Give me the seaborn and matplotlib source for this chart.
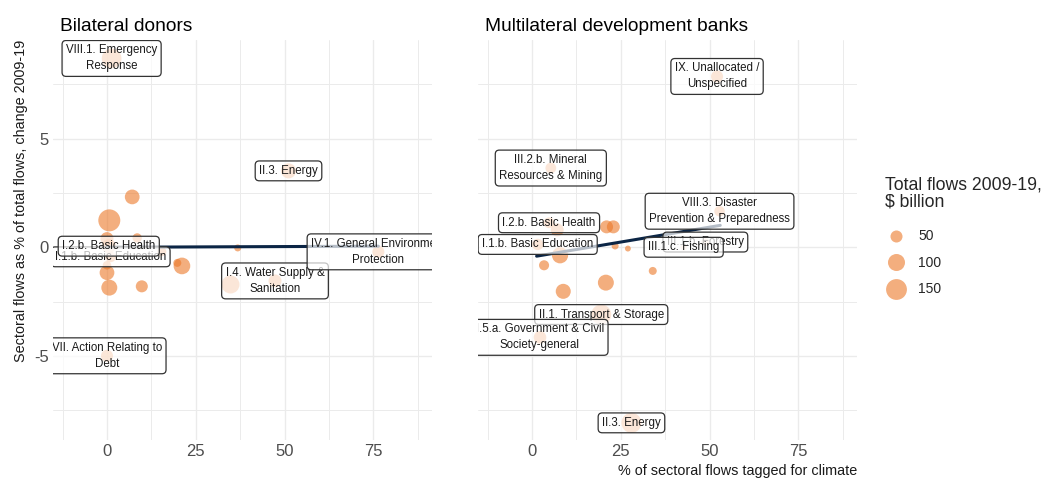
import matplotlib
matplotlib.use("Agg")
import matplotlib.pyplot as plt
from matplotlib.lines import Line2D
import pandas as pd
import seaborn as sns

# ---- Bilateral donors -------------------------------------------------------
bil_sector = [
    "VIII.1. Emergency\nResponse", "II.3. Energy", "", "", "", "",
    "I.1.b. Basic Education", "I.2.b. Basic Health", "", "", "", "", "",
    "", "", "", "I.4. Water Supply &\nSanitation",
    "IV.1. General Environment\nProtection", "VII. Action Relating to\nDebt",
]
bil_climate_pct = [1.3, 51.1, 7.1, 0.65, 8.5, 0.0, 1.0, 0.5, 15.4, 0.0,
                   0.0, 0.65, 9.8, 19.8, 21.1, 36.8, 47.3, 76.4, 0.0]
bil_share_change = [8.7, 3.52, 2.32, 1.24, 0.43, 0.40, -0.44, 0.05, -0.2,
                    -0.83, -1.17, -1.86, -1.80, -0.72, -0.86, -0.03, -1.55,
                    -0.21, -5.0]
bil_total_flows = [135, 78, 75, 167, 30, 58, 40, 70, 30, 25, 75, 88, 50, 22,
                   96, 17, 58, 50, 50]
unl_bil_x = [34.5]
unl_bil_y = [-1.67]
unl_bil_v = [112]

# ---- Multilateral development banks ----------------------------------------
mdb_sector = [
    "IX. Unallocated /\nUnspecified", "III.2.b. Mineral\nResources & Mining",
    "VIII.3. Disaster\nPrevention & Preparedness", "I.1.b. Basic Education",
    "I.2.b. Basic Health", "", "", "", "", "", "", "", "", "", "",
    "III.1.b. Forestry", "III.1.c. Fishing", "II.1. Transport & Storage",
    "I.5.a. Government & Civil\nSociety-general", "II.3. Energy",
]
mdb_climate_pct = [52.1, 5.3, 52.8, 1.6, 4.8, 7.1, 21.0, 22.9, 23.4, 27.0,
                   7.9, 3.4, 8.8, 20.8, 34.0, 48.8, 42.7, 19.5, 2.25, 28.0]
mdb_share_change = [7.87, 3.65, 1.66, 0.13, 1.13, 0.80, 0.94, 0.94, 0.06,
                    -0.06, -0.37, -0.83, -2.03, -1.63, -1.09, 0.24, 0.0,
                    -3.1, -4.15, -8.09]
mdb_total_flows = [50, 40, 38, 45, 40, 58, 58, 58, 17, 12, 90, 35, 78, 88,
                   22, 20, 15, 138, 55, 138]

# Linear trend of each panel (end points)
bil_fit_x = [0.0, 76.4]
bil_fit_y = [0.0, 0.05]
mdb_fit_x = [1.3, 53.0]
mdb_fit_y = [-0.41, 1.01]

legend_values = [50, 100, 150]
x_ticks = [0, 25, 50, 75]
y_ticks = [-5, 0, 5]

# ---- style ------------------------------------------------------------------
sns.set_theme(style="white")
plt.rcParams["font.family"] = ["Liberation Sans", "DejaVu Sans"]
plt.rcParams["axes.unicode_minus"] = False

POINT = (236 / 255, 120 / 255, 40 / 255)
ALPHA = 0.6
LINE = "#0B2545"
SIZE_NORM = (0, 200)
SIZES = (0, 300)

fig = plt.figure(figsize=(10.46, 4.79), dpi=100)
W, H = 1046, 479
ax_l = fig.add_axes([53 / W, 1 - 440 / H, 379 / W, 400 / H])
ax_r = fig.add_axes([478 / W, 1 - 440 / H, 379 / W, 400 / H])


def panel(ax, names, xs, ys, vs, fit_x, fit_y, show_y):
    df = pd.DataFrame({"x": xs, "y": ys, "v": vs, "name": names})
    sns.scatterplot(data=df, x="x", y="y", size="v", sizes=SIZES,
                    size_norm=SIZE_NORM, color=POINT, alpha=ALPHA,
                    linewidth=0, legend=False, ax=ax, zorder=2)
    fit = pd.DataFrame({"x": fit_x, "y": fit_y})
    sns.lineplot(data=fit, x="x", y="y", color=LINE, lw=2.2, ax=ax, zorder=3)
    for _, r in df[df["name"] != ""].iterrows():
        ax.text(r["x"], r["y"], r["name"], ha="center", va="center",
                fontsize=8.3, color="#1A1A1A", linespacing=1.45, zorder=5,
                clip_on=True,
                bbox=dict(boxstyle="round,pad=0.34,rounding_size=0.35",
                          facecolor=(1, 1, 1, 0.7), edgecolor="#333333",
                          linewidth=0.9))
    ax.set_xlim(-15.2, 91.5)
    ax.set_ylim(-8.88, 9.55)
    ax.set_xticks(x_ticks)
    ax.set_xticks([-12.5, 12.5, 37.5, 62.5, 87.5], minor=True)
    ax.set_yticks(y_ticks)
    ax.set_yticks([-7.5, -2.5, 2.5, 7.5], minor=True)
    ax.grid(which="major", color="#EBEBEB", lw=1.0)
    ax.grid(which="minor", color="#EBEBEB", lw=0.7)
    ax.set_axisbelow(True)
    ax.tick_params(which="both", length=0, labelsize=12, colors="#4D4D4D",
                   pad=3)
    if not show_y:
        ax.tick_params(axis="y", labelleft=False)
    for s in ax.spines.values():
        s.set_visible(False)
    ax.set_xlabel("")
    ax.set_ylabel("")


panel(ax_l, bil_sector, bil_climate_pct, bil_share_change, bil_total_flows,
      bil_fit_x, bil_fit_y, True)
sns.scatterplot(x=unl_bil_x, y=unl_bil_y, size=unl_bil_v, sizes=SIZES,
                size_norm=SIZE_NORM, color=POINT, alpha=ALPHA, linewidth=0,
                legend=False, ax=ax_l, zorder=2)
ax_l.set_xlabel("")
ax_l.set_ylabel("")
panel(ax_r, mdb_sector, mdb_climate_pct, mdb_share_change, mdb_total_flows,
      mdb_fit_x, mdb_fit_y, False)

# titles and axis labels
fig.text(60 / W, 1 - 31 / H, "Bilateral donors", fontsize=13.8,
         color="black", va="baseline", ha="left")
fig.text(485 / W, 1 - 31 / H, "Multilateral development banks",
         fontsize=13.8, color="black", va="baseline", ha="left")
fig.text(21.5 / W, 1 - 201 / H,
         "Sectoral flows as % of total flows, change 2009-19",
         rotation=90, fontsize=10.4, color="#1A1A1A", ha="center",
         va="center")
fig.text(857 / W, 1 - 475 / H, "% of sectoral flows tagged for climate",
         fontsize=10.4, color="#1A1A1A", ha="right", va="baseline")

# size legend
handles = []
for v in legend_values:
    s = SIZES[0] + (SIZES[1] - SIZES[0]) * (v - SIZE_NORM[0]) / (
        SIZE_NORM[1] - SIZE_NORM[0])
    handles.append(Line2D([], [], marker="o", linestyle="",
                          markersize=s ** 0.5, markerfacecolor=POINT,
                          markeredgewidth=0, alpha=ALPHA))
leg = fig.legend(handles, [str(v) for v in legend_values],
                 title="Total flows 2009-19,\n\\$ billion",
                 loc="upper left", bbox_to_anchor=(885 / W, 1 - 176 / H),
                 frameon=False, fontsize=10, title_fontsize=12.7,
                 alignment="left", labelspacing=0.9, handletextpad=0.8,
                 borderpad=0, borderaxespad=0, handlelength=1.6)
leg.get_title().set_linespacing(1.0)
leg._legend_box.sep = 14

fig.savefig("out.png", dpi=100)
